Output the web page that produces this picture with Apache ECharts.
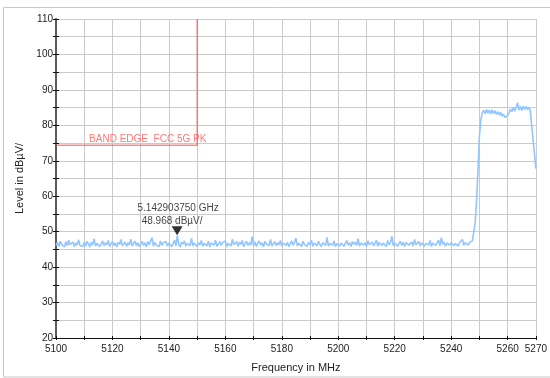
<!DOCTYPE html>
<html>
<head>
<meta charset="utf-8">
<script src="https://cdn.jsdelivr.net/npm/echarts@6/dist/echarts.min.js"></script>
<style>html,body{margin:0;padding:0;background:#fff}#c{width:550px;height:378px}</style>
</head>
<body>
<div id="c"></div>
<script>
// Sweep grid (MHz)
const sweepStartMHz = 5100;
const sweepStepMHz = 0.5;

// Trace levels (dBµV/), 5100 ... 5247.5 MHz
const noiseLevels = [
46.1,47.0,45.8,47.3,46.4,46.8,45.7,47.2,46.0,47.6,46.3,45.9,47.1,45.8,46.9,46.2,47.7,46.1,46.6,45.8,
47.0,45.9,47.3,46.5,45.7,47.0,46.2,48.0,45.9,46.7,47.2,45.8,46.5,47.4,46.0,46.9,46.3,47.5,45.8,46.6,
47.2,46.1,46.8,45.7,47.0,46.4,47.8,46.0,46.5,47.1,45.8,46.9,46.2,47.9,45.9,46.7,47.3,46.0,46.9,45.8,
46.5,47.3,46.1,46.9,45.7,47.2,46.3,46.8,48.3,45.9,47.0,46.2,46.7,45.8,47.4,46.1,46.9,46.4,47.2,45.9,
46.8,47.2,45.8,46.6,47.6,46.0,48.97,46.3,45.7,47.1,46.5,47.4,45.9,46.7,46.9,46.1,48.1,46.0,46.8,47.2,
45.8,46.9,46.3,47.5,45.9,46.7,47.1,46.0,47.3,45.7,46.8,47.0,46.2,47.6,45.9,46.5,47.2,46.1,46.9,46.4,
47.4,45.8,46.7,47.1,46.0,47.9,46.3,46.8,47.2,45.9,47.0,46.4,47.5,45.8,46.7,47.3,46.1,46.9,46.2,48.6,
46.0,47.1,45.8,46.8,47.4,46.2,46.9,45.7,47.3,46.5,47.0,46.1,47.8,45.9,46.6,47.2,46.0,46.9,46.3,47.5,
45.9,46.8,47.2,46.1,47.0,45.8,46.6,47.4,46.2,46.9,48.2,46.0,46.7,47.1,45.8,47.3,46.4,46.8,45.9,47.0,
46.3,47.6,45.9,46.8,47.1,46.0,47.3,46.4,45.8,46.9,47.2,46.1,48.4,45.9,46.7,47.0,46.2,47.4,45.8,46.6,
47.1,46.0,46.8,47.3,45.9,46.7,47.5,46.2,46.9,45.8,47.2,46.4,47.0,46.1,48.0,45.9,46.8,47.3,46.2,46.9,
45.8,47.4,46.3,46.8,47.1,46.0,46.7,47.6,45.9,46.9,47.2,46.1,46.8,47.0,45.8,47.5,46.3,46.9,48.7,46.0,
46.8,47.2,45.9,46.6,47.3,46.1,47.0,45.8,46.9,47.4,46.2,46.7,47.1,45.9,47.8,46.3,46.8,47.2,46.0,46.9,
47.3,45.9,46.7,47.0,46.2,47.5,45.8,46.8,47.2,46.1,46.9,47.6,46.0,48.3,46.4,47.1,45.9,46.8,47.3,46.2,
46.9,47.4,46.0,46.7,47.2,45.9,47.0,46.5,47.8,46.1,46.9,47.3,46.2,47.0,46.6,47.4
];
// Trace levels 5248 ... 5270 MHz (signal)
const bandLevels = [
47.5,52.5,59.0,67.5,77.0,81.5,83.6,
84.2,83.3,84.5,83.4,84.3,83.2,84.4,83.3,84.1,83.1,
83.9,82.9,83.7,82.6,83.2,82.2,81.9,82.8,83.6,84.6,
83.8,85.0,84.0,85.1,86.4,84.3,85.3,84.2,85.4,84.5,
85.3,84.4,85.1,84.3,80.0,76.0,72.0,67.8
];

// Limit line "BAND EDGE  FCC 5G PK"
const limitFreq = [5100, 5150, 5150];
const limitLevel = [74.4, 74.4, 110];
const limitName = 'BAND EDGE  FCC 5G PK';
const limitLabelFreq = 5132.5;

// Marker
const markerFreq = 5142.90375;
const markerLevel = 48.968;
const markerText1 = '5.142903750 GHz';
const markerText2 = '48.968 dBµV/';

// Axes
const xMin = 5100, xMax = 5270, xStep = 10;
const yMin = 20, yMax = 110, yStep = 5;
const xLabelValues = [5100, 5120, 5140, 5160, 5180, 5200, 5220, 5240, 5260, 5270];
const yLabelValues = [20, 30, 40, 50, 60, 70, 80, 90, 100, 110];

const levels = noiseLevels.concat(bandLevels);
const trace = levels.map((v, i) => [sweepStartMHz + i * sweepStepMHz, v]);
const limitData = limitFreq.map((f, i) => [f, limitLevel[i]]);

const FONT = 'Liberation Sans, Arial, sans-serif';
const chart = echarts.init(document.getElementById('c'), null, {renderer: 'canvas'});
chart.setOption({
  animation: false,
  backgroundColor: '#fff',
  textStyle: {fontFamily: FONT},
  graphic: [{
    type: 'rect', silent: true, z: -10,
    shape: {x: 3.5, y: 7.5, width: 600, height: 369.5},
    style: {fill: 'none', stroke: '#c8c8c8', lineWidth: 1}
  }],
  grid: {left: 56, right: 14, top: 19, bottom: 37, containLabel: false},
  xAxis: [{
    type: 'value', min: xMin, max: xMax, interval: xStep,
    name: 'Frequency in MHz', nameLocation: 'middle', nameGap: 24,
    nameTextStyle: {fontSize: 11, color: '#222', fontFamily: FONT},
    axisLine: {show: true, onZero: false, lineStyle: {color: '#111', width: 1}},
    axisTick: {show: true, inside: false, length: 2, lineStyle: {color: '#111'}},
    axisLabel: {fontSize: 10, color: '#222', margin: 6, fontFamily: FONT,
      formatter: v => xLabelValues.indexOf(v) >= 0 ? String(v) : ''},
    splitLine: {show: true, lineStyle: {color: '#cacaca', width: 1}}
  }, {
    type: 'value', min: xMin, max: xMax, interval: xStep, position: 'bottom',
    axisLine: {show: false, onZero: false},
    axisTick: {show: true, inside: true, length: 2, lineStyle: {color: '#111'}},
    axisLabel: {show: false}, splitLine: {show: false}
  }],
  yAxis: [{
    type: 'value', min: yMin, max: yMax, interval: yStep,
    name: 'Level in dBµV/', nameLocation: 'middle', nameGap: 31,
    nameTextStyle: {fontSize: 11, color: '#222', fontFamily: FONT},
    axisLine: {show: true, onZero: false, lineStyle: {color: '#5a5a5a', width: 2}},
    axisTick: {show: true, inside: false, length: 3, lineStyle: {color: '#111'}},
    axisLabel: {fontSize: 10, color: '#222', margin: 3, fontFamily: FONT,
      formatter: v => yLabelValues.indexOf(v) >= 0 ? String(v) : ''},
    splitLine: {show: true, lineStyle: {color: '#cacaca', width: 1}}
  }, {
    type: 'value', min: yMin, max: yMax, interval: yStep, position: 'left',
    axisLine: {show: false, onZero: false},
    axisTick: {show: true, inside: true, length: 3, lineStyle: {color: '#111'}},
    axisLabel: {show: false}, splitLine: {show: false}
  }],
  series: [{
    type: 'line', name: 'trace', data: trace, xAxisIndex: 0, yAxisIndex: 0,
    showSymbol: false, symbol: 'none', sampling: null, z: 3,
    lineStyle: {color: '#92c6ff', width: 1.6}
  }, {
    type: 'line', name: 'limit', data: limitData, xAxisIndex: 0, yAxisIndex: 0,
    showSymbol: false, symbol: 'none', z: 4,
    lineStyle: {color: '#ff4a4a', width: 1}
  }, {
    type: 'scatter', xAxisIndex: 0, yAxisIndex: 0, z: 6, silent: true,
    data: [{
      value: [markerFreq, markerLevel], symbol: 'triangle', symbolRotate: 180,
      symbolSize: [11, 9], symbolOffset: [0, -4.5], itemStyle: {color: '#000'}
    }, {
      value: [markerFreq, markerLevel], symbolSize: 0,
      label: {show: true, position: 'inside', offset: [1, -27], formatter: markerText1,
        fontSize: 10, color: '#111', fontFamily: FONT}
    }, {
      value: [markerFreq, markerLevel], symbolSize: 0,
      label: {show: true, position: 'inside', offset: [-5, -14.5], formatter: markerText2,
        fontSize: 10, color: '#111', fontFamily: FONT}
    }, {
      value: [limitLabelFreq, limitLevel[0]], symbolSize: 0,
      label: {show: true, position: 'inside', offset: [0, -6], formatter: limitName,
        fontSize: 10, color: '#ff5555', fontFamily: FONT}
    }]
  }]
});
</script>
</body>
</html>
